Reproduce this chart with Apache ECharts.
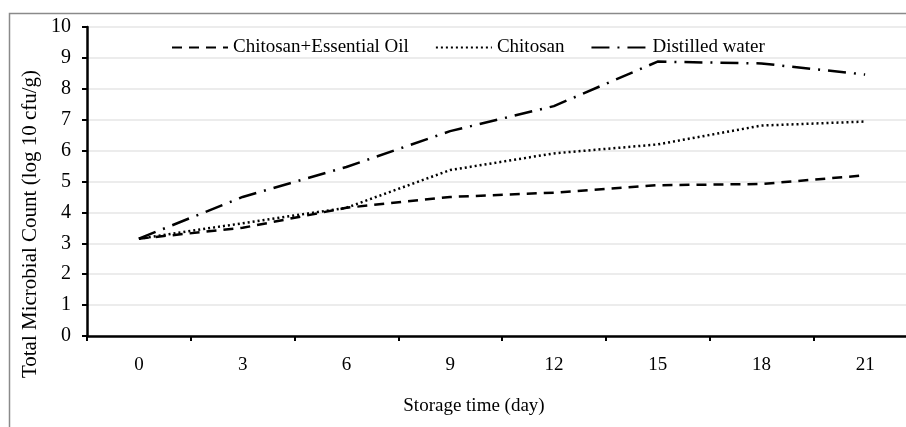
<!DOCTYPE html>
<html>
<head>
<meta charset="utf-8">
<script src="https://cdn.jsdelivr.net/npm/echarts@6/dist/echarts.min.js"></script>
<style>
    html, body { margin: 0; padding: 0; background: #fff; }
    #chart { width: 906px; height: 427px; }
</style>
</head>
<body>
<div id="chart"></div>
<script>
    // storage days
    var days = ['0', '3', '6', '9', '12', '15', '18', '21'];
    // log10 cfu/g
    var chitosanOil = [3.15, 3.5, 4.15, 4.5, 4.64, 4.88, 4.92, 5.2];
    var chitosan = [3.15, 3.65, 4.15, 5.37, 5.91, 6.2, 6.81, 6.94];
    var water = [3.15, 4.5, 5.47, 6.63, 7.44, 8.88, 8.82, 8.46];

    var serif = '"Liberation Serif", "DejaVu Serif", serif';

    var chart = echarts.init(document.getElementById('chart'));

    function lineSeries(name, data, dash) {
        return {
            name: name,
            type: 'line',
            data: data,
            symbol: 'none',
            color: '#000',
            itemStyle: { color: '#000' },
            lineStyle: { color: '#000', width: 2.5, type: dash }
        };
    }

    var option = {
        backgroundColor: '#fff',
        animation: false,
        textStyle: { fontFamily: serif },
        // plot runs past the right edge in the original figure
        grid: { left: 87, right: -11, top: 27, bottom: 91, outerBoundsMode: 'none' },
        legend: {
            left: 166,
            top: 33,
            itemWidth: 56,
            itemHeight: 10,
            itemGap: 26,
            itemStyle: { opacity: 0 },
            textStyle: { fontFamily: serif, fontSize: 19, color: '#000' },
            data: ['Chitosan+Essential Oil', 'Chitosan', 'Distilled water']
        },
        xAxis: {
            type: 'category',
            data: days,
            boundaryGap: true,
            axisLine: { lineStyle: { color: '#000', width: 2.5 } },
            axisTick: { show: true, length: 5, lineStyle: { color: '#000', width: 2 } },
            axisLabel: { color: '#000', fontSize: 19, fontFamily: serif, margin: 20 },
            splitLine: { show: false }
        },
        yAxis: {
            type: 'value',
            min: 0,
            max: 10,
            interval: 1,
            axisLine: { show: true, lineStyle: { color: '#000', width: 2.5 } },
            axisTick: { show: true, length: 5, lineStyle: { color: '#000', width: 2 } },
            axisLabel: { color: '#000', fontSize: 20, fontFamily: serif, margin: 16 },
            splitLine: { lineStyle: { color: '#e6e6e6', width: 1.5 } }
        },
        graphic: [
            {
                type: 'rect',
                shape: { x: 9.5, y: 13.5, width: 920, height: 440 },
                style: { fill: null, stroke: '#8a8a8a', lineWidth: 1.5 },
                silent: true
            },
            {
                type: 'text',
                x: 474,
                y: 406,
                style: {
                    text: 'Storage time (day)',
                    font: '19px ' + serif,
                    fill: '#000',
                    textAlign: 'center',
                    textVerticalAlign: 'middle'
                }
            },
            {
                type: 'text',
                x: 30,
                y: 224,
                rotation: Math.PI / 2,
                style: {
                    text: 'Total Microbial Count (log 10 cfu/g)',
                    font: '21px ' + serif,
                    fill: '#000',
                    textAlign: 'center',
                    textVerticalAlign: 'middle'
                }
            }
        ],
        series: [
            lineSeries('Chitosan+Essential Oil', chitosanOil, [10, 7]),
            lineSeries('Chitosan', chitosan, [2, 3]),
            lineSeries('Distilled water', water, [18, 8, 2, 8])
        ]
    };
    chart.setOption(option);
</script>
</body>
</html>
